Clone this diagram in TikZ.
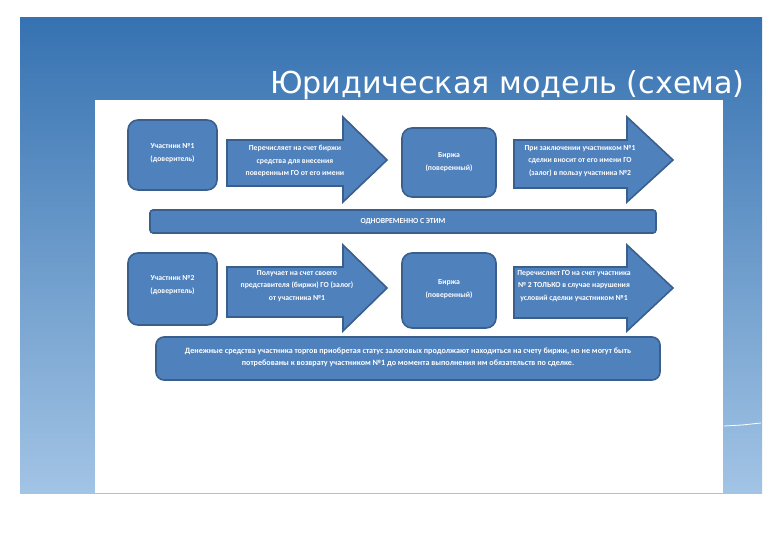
\documentclass[tikz,border=0pt]{standalone}
\usepackage{fontspec}
\setmainfont{Carlito}
\newfontfamily\titlefont{DejaVu Sans}
\definecolor{boxblue}{HTML}{4F81BD}
\definecolor{boxline}{HTML}{3A5F8C}
\definecolor{slidetop}{HTML}{3672B1}
\definecolor{slidebot}{HTML}{A2C4E5}
\begin{document}
\begin{tikzpicture}[x=1pt,y=-1pt,
  stepbox/.style={draw=boxline,line width=1.6pt,fill=boxblue,rounded corners=10pt},
  flowarrow/.style={draw=boxline,line width=1.6pt,fill=boxblue,line join=miter},
  boxtext/.style={text=white,font=\bfseries\fontsize{7.7}{12.5}\selectfont,align=center,inner sep=0pt}]
  % Slide background
  \fill[white] (0,0) rectangle (780,540);
  \useasboundingbox (0,0) rectangle (780,540);
  \shade[top color=slidetop,bottom color=slidebot] (20,18) rectangle (762,493);
  \draw[white,line width=0.8pt] (724,426) -- (742,425) -- (761,423);
  \fill[white] (95,100) rectangle (723,493);
  \node[anchor=base east,text=white,inner sep=0pt,font=\titlefont\fontsize{30.2}{36}\selectfont] (title) at (745,94) {Юридическая модель (схема)};
  % First row
  \draw[stepbox] (128,120) rectangle (217,190);
  \node[boxtext] (part1) at (172.5,153) {Участник №1\\(доверитель)};
  \draw[flowarrow] (227,140) -- (343,140) -- (343,117) -- (387,160) -- (343,202) -- (343,186) -- (227,186) -- cycle;
  \node[boxtext] (pay1) at (295,161) {Перечисляет на счет биржи\\средства для внесения\\поверенным ГО от его имени};
  \draw[stepbox] (402,128) rectangle (496,197);
  \node[boxtext] (exch1) at (449,162) {Биржа\\(поверенный)};
  \draw[flowarrow] (514,140) -- (627,140) -- (627,117) -- (673,160) -- (627,202) -- (627,188) -- (514,188) -- cycle;
  \node[boxtext] (deal1) at (580,161) {При заключении участником №1\\сделки вносит от его имени ГО\\(залог) в пользу участника №2};
  % Middle bar
  \draw[stepbox,rounded corners=3pt] (150,210) rectangle (656,233);
  \node[boxtext] (meanwhile) at (403,221.5) {ОДНОВРЕМЕННО С ЭТИМ};
  % Second row
  \draw[stepbox] (128,253) rectangle (217,325);
  \node[boxtext] (part2) at (172.5,285) {Участник №2\\(доверитель)};
  \draw[flowarrow] (227,267) -- (343,267) -- (343,245) -- (387,288) -- (343,331) -- (343,317) -- (227,317) -- cycle;
  \node[boxtext] (get2) at (297,286) {Получает на счет своего\\представителя (биржи) ГО (залог)\\от участника №1};
  \draw[stepbox] (402,253) rectangle (496,328);
  \node[boxtext] (exch2) at (449,289) {Биржа\\(поверенный)};
  \draw[flowarrow] (514,267) -- (627,267) -- (627,245) -- (673,288) -- (627,331) -- (627,318) -- (514,318) -- cycle;
  \node[boxtext] (pay2) at (574,286) {Перечисляет ГО на счет участника\\№ 2 ТОЛЬКО в случае нарушения\\условий сделки участником №1};
  % Note
  \draw[stepbox,rounded corners=8pt] (156,337) rectangle (660,380);
  \node[boxtext,font=\bfseries\fontsize{8.1}{12}\selectfont] (note) at (408,357) {Денежные средства участника торгов приобретая статус залоговых продолжают находиться на счету биржи, но не могут быть\\потребованы к возврату участником №1 до момента выполнения им обязательств по сделке.};
\end{tikzpicture}
\end{document}
